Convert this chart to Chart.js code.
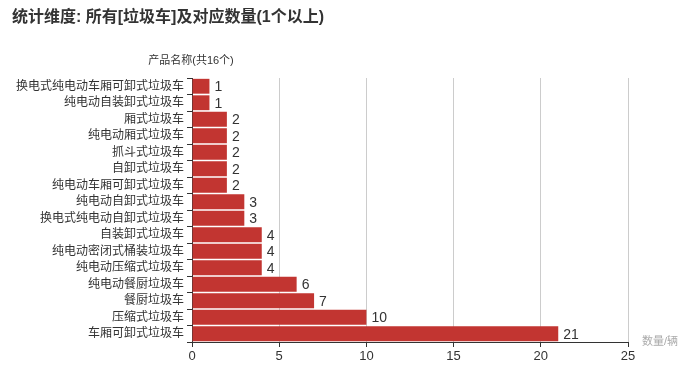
<!DOCTYPE html>
<html>
<head>
<meta charset="utf-8">
<script src="https://cdn.jsdelivr.net/npm/chart.js@4"></script>
<style>
  html, body { margin: 0; padding: 0; background: #fff; }
  #wrap { width: 700px; height: 372px; }
</style>
</head>
<body>
<div id="wrap"><canvas id="trashChart"></canvas></div>
<script>
// 垃圾车 counts, top to bottom as in the chart
const categories = [
    '换电式纯电动车厢可卸式垃圾车', '纯电动自装卸式垃圾车', '厢式垃圾车', '纯电动厢式垃圾车',
    '抓斗式垃圾车', '自卸式垃圾车', '纯电动车厢可卸式垃圾车', '纯电动自卸式垃圾车',
    '换电式纯电动自卸式垃圾车', '自装卸式垃圾车', '纯电动密闭式桶装垃圾车', '纯电动压缩式垃圾车',
    '纯电动餐厨垃圾车', '餐厨垃圾车', '压缩式垃圾车', '车厢可卸式垃圾车'
];
const counts = [1, 1, 2, 2, 2, 2, 2, 3, 3, 4, 4, 4, 6, 7, 10, 21];
const xTicks = [0, 5, 10, 15, 20, 25];

const titleText = '统计维度: 所有[垃圾车]及对应数量(1个以上)';
const yAxisName = '产品名称(共16个)';
const xAxisName = '数量/辆';

const FONT = '"Liberation Sans", "Noto Sans CJK SC", sans-serif';

// draws title, axis names and the value next to each bar
const extras = {
    id: 'extras',
    afterDatasetsDraw(chart) {
        const c = chart.ctx;
        c.save();
        c.fillStyle = '#333';
        c.font = 'bold 16px ' + FONT;
        c.textBaseline = 'middle';
        c.textAlign = 'left';
        c.fillText(titleText, 12, 18);

        c.font = '11px ' + FONT;
        c.textAlign = 'center';
        c.fillText(yAxisName, chart.chartArea.left - 1, 61);

        c.fillStyle = '#aaa';
        c.font = '11px ' + FONT;
        c.textAlign = 'left';
        c.fillText(xAxisName, chart.chartArea.right + 14, chart.chartArea.bottom);

        c.fillStyle = '#333';
        c.font = '14px ' + FONT;
        const meta = chart.getDatasetMeta(0);
        meta.data.forEach((bar, i) => {
            c.fillText(String(counts[i]), bar.x + 5, bar.y + 1);
        });
        c.restore();
    }
};

new Chart(document.getElementById('trashChart'), {
    type: 'bar',
    data: {
        labels: categories,
        datasets: [{
            data: counts,
            backgroundColor: '#c23531',
            barPercentage: 0.9,
            categoryPercentage: 1
        }]
    },
    options: {
        indexAxis: 'y',
        responsive: true,
        maintainAspectRatio: false,
        animation: false,
        layout: { padding: { left: 0, top: 78, right: 72, bottom: 0 } },
        plugins: {
            legend: { display: false },
            tooltip: { enabled: false }
        },
        scales: {
            x: {
                min: 0,
                max: 25,
                afterBuildTicks: (scale) => { scale.ticks = xTicks.map(v => ({ value: v })); },
                afterFit: (scale) => { scale.height = 30; },
                border: { color: '#333' },
                grid: { color: '#ccc', tickColor: '#333', tickLength: 5 },
                ticks: { color: '#333', font: { family: FONT, size: 13 }, padding: 2 }
            },
            y: {
                afterFit: (scale) => { scale.width = 192; },
                border: { color: '#333' },
                grid: { drawOnChartArea: false, tickColor: '#333', tickLength: 5, offset: true },
                ticks: { color: '#333', font: { family: FONT, size: 12 }, padding: 3, autoSkip: false }
            }
        }
    },
    plugins: [extras]
});
</script>
</body>
</html>
